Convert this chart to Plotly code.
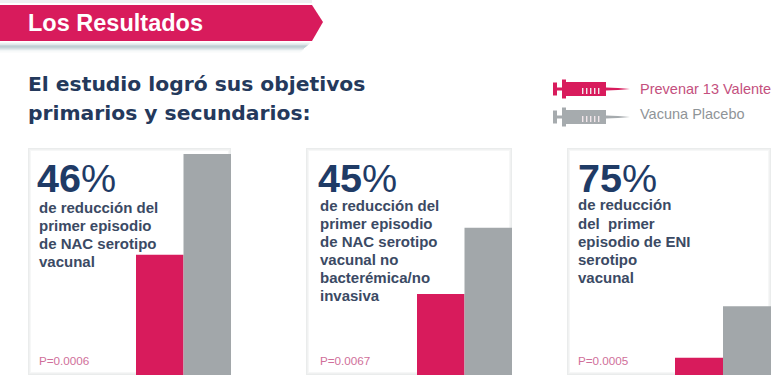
import plotly.graph_objects as go

W, H = 780, 385

series_names = ["Prevenar 13 Valente", "Vacuna Placebo"]
prevenar_values = [49, 33, 7]
placebo_values = [90, 60, 28]
big_numbers = ["46", "45", "75"]
panel_lines = [
    ["de reducción del", "primer episodio", "de NAC serotipo", "vacunal"],
    ["de reducción del", "primer episodio", "de NAC serotipo", "vacunal no", "bacterémica/no", "invasiva"],
    ["de reducción", "del  primer", "episodio de ENI", "serotipo", "vacunal"],
]
p_values = ["P=0.0006", "P=0.0067", "P=0.0005"]
header_text = "Los Resultados"
title_lines = ["El estudio logró sus objetivos", "primarios y secundarios:"]

PINK = "#d81b5c"
GRAY = "#a2a7aa"
NAVY = "#1f3b66"
BODY = "#3b4a64"
FONT = "Liberation Sans"

# layout of the three panels, in picture pixels
panels = [
    dict(left=28, right=231, bars_left=136, text_x=37.5, big_x=35.5, first=207.5),
    dict(left=306, right=512, bars_left=417, text_x=319, big_x=317, first=205.5),
    dict(left=567, right=771, bars_left=675, text_x=577, big_x=577, first=205),
]
TOP, BOTTOM = 148, 375
YMAX = (BOTTOM - TOP) / 2.455


def px(x):
    return x / W


def py(y):
    return 1 - y / H


def rect(x0, y0, x1, y1, fill, layer="below"):
    return dict(type="rect", xref="paper", yref="paper", x0=px(x0), x1=px(x1),
                y0=py(y0), y1=py(y1), fillcolor=fill, layer=layer, line=dict(width=0))


def poly(points, fill, layer="below"):
    d = "M " + " L ".join(f"{px(x):.5f},{py(y):.5f}" for x, y in points) + " Z"
    return dict(type="path", xref="paper", yref="paper", path=d, fillcolor=fill,
                line=dict(width=0), layer=layer)


shapes = []
annotations = []

# banner
shapes.append(rect(0, 0, 312, 3, "#eef0f1"))
for i, col in enumerate(["#f0f4f5", "#dfe8ea", "#cbd8dc", "#bfced3", "#c5d3d8",
                         "#d3dee1", "#e2e9eb", "#eff3f4", "#f8fafa"]):
    shapes.append(rect(0, 42.5 + i * 1.1, 310 - i * 1.2, 43.7 + i * 1.1, col))
shapes.append(poly([(0, 5), (312, 5), (323, 22), (312, 41), (0, 41)], PINK))


def text(x, y, s, size, color, bold=False, family=FONT):
    annotations.append(dict(
        xref="paper", yref="paper", x=px(x), y=py(y), text=f"<b>{s}</b>" if bold else s,
        showarrow=False, xanchor="left", yanchor="middle", align="left",
        borderpad=0, font=dict(family=family, size=size, color=color)))


text(27, 23, header_text, 23.5, "#ffffff", bold=True)
text(27, 84, title_lines[0], 20.3, "#24395c", bold=True, family="DejaVu Sans")
text(27, 113, title_lines[1], 20.3, "#24395c", bold=True, family="DejaVu Sans")


# legend syringes
def syringe(yc, col):
    shapes.extend([
        rect(553, yc - 6.5, 557, yc + 6.5, col),
        rect(557, yc - 1.5, 562, yc + 1.5, col),
        rect(562, yc - 9.5, 566, yc + 9.5, col),
        rect(566, yc - 7, 606, yc + 7, col),
        poly([(606, yc - 1.5), (618, yc - 1), (630, yc), (618, yc + 1), (606, yc + 1.5)], col),
    ])
    for tx in (582, 586, 590, 594, 598):
        shapes.append(rect(tx, yc - 1, tx + 1.4, yc + 5, "#f2e6ea"))


syringe(89, "#d81b5c")
syringe(117, "#a6abae")
text(639, 89, series_names[0], 14.5, "#c4507e")
text(639, 114, series_names[1], 14.5, "#8f9498")

fig = go.Figure()

for i, p in enumerate(panels):
    # soft panel frame
    for inset, col in ((0, "#eaecec"), (1, "#f0f1f1"), (2, "#f6f7f7"), (3, "#ffffff")):
        shapes.append(rect(p["left"] + inset, TOP + inset, p["right"] - inset, BOTTOM - inset, col))

    ax = "" if i == 0 else str(i + 1)
    fig.add_trace(go.Bar(
        x=series_names, y=[prevenar_values[i], placebo_values[i]],
        marker=dict(color=[PINK, GRAY], line=dict(width=0)), width=[1, 1],
        xaxis=f"x{ax}", yaxis=f"y{ax}", showlegend=False))
    fig.update_layout({
        f"xaxis{ax}": dict(domain=[px(p["bars_left"]), px(p["right"])], visible=False,
                           type="category", range=[-0.5, 1.5], anchor=f"y{ax}"),
        f"yaxis{ax}": dict(domain=[py(BOTTOM), py(TOP)], visible=False,
                           range=[0, YMAX], anchor=f"x{ax}"),
    })

    annotations.append(dict(
        xref="paper", yref="paper", x=px(p["big_x"]), y=py(178), showarrow=False,
        xanchor="left", yanchor="middle", borderpad=0, height=30,
        text=f"<b>{big_numbers[i]}</b>%",
        font=dict(family=FONT, size=39.5, color=NAVY)))
    for k, line in enumerate(panel_lines[i]):
        text(p["text_x"], p["first"] + 18 * k, line, 15, BODY, bold=True)
    text(p["text_x"], 360, p_values[i], 11.7, "#d0709a")

fig.update_layout(
    width=W, height=H, autosize=False,
    margin=dict(l=0, r=0, t=0, b=0, pad=0),
    paper_bgcolor="#ffffff", plot_bgcolor="rgba(0,0,0,0)",
    barmode="overlay", shapes=shapes, annotations=annotations,
)
fig.write_html("out.html", config=dict(displayModeBar=False),
               post_script="document.body.style.margin='0';document.body.style.overflow='hidden';")
